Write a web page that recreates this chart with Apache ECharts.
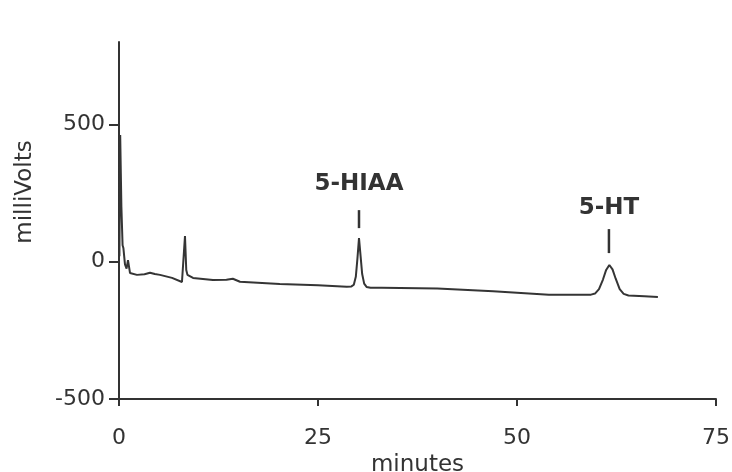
<!DOCTYPE html>
<html>
<head>
<meta charset="utf-8">
<script src="https://cdn.jsdelivr.net/npm/echarts@6/dist/echarts.min.js"></script>
<style>
  html, body { margin: 0; padding: 0; background: #fff; }
  #chart { width: 732px; height: 472px; }
</style>
</head>
<body>
<div id="chart"></div>
<script>
// ---- data ----
var timeMin = [0.05, 0.15, 0.3, 0.45, 0.55, 0.75, 0.95, 1.13, 1.38, 2.26, 3.2, 3.9, 4.5, 5.15, 6.66, 7.91, 8.15, 8.29, 8.45, 8.6, 9.3, 11.8, 13.5, 14.3, 15.2, 20.2, 25, 28.6, 29.2, 29.5, 29.75, 29.95, 30.15, 30.35, 30.55, 30.8, 31.1, 31.6, 33, 40, 47, 54, 59.3, 59.8, 60.3, 60.8, 61.2, 61.6, 62.0, 62.4, 62.9, 63.4, 64, 66, 67.7];
var milliVolts = [20, 461, 200, 60, 50, -10, -25, 6, -41, -48, -46, -40, -45, -48, -59, -74, -74, 93, -30, -48, -59, -67, -66, -62, -73, -81, -86, -91, -90, -84, -55, 10, 86, 20, -45, -80, -92, -95, -95, -98, -108, -120, -120, -116, -100, -65, -30, -12, -28, -62, -100, -117, -123, -126, -129];

var xTicks = [0, 25, 50, 75];
var yTicks = [-500, 0, 500];

var peakNames = ['5-HIAA', '5-HT'];
var peakTimes = [30.15, 61.55];
var peakMarkY = [155, 75];
var peakMarkLen = [18, 24];
var peakTextY = [283, 194];

var lineData = timeMin.map(function (t, i) { return [t, milliVolts[i]]; });

var markData = [];
peakNames.forEach(function (n, i) {
  markData.push({
    coord: [peakTimes[i], peakMarkY[i]],
    symbol: 'rect',
    symbolSize: [2.5, peakMarkLen[i]],
    itemStyle: { color: '#333' },
    label: { show: false }
  });
  markData.push({
    coord: [peakTimes[i], peakTextY[i]],
    symbol: 'rect',
    symbolSize: 0.01,
    itemStyle: { color: 'rgba(0,0,0,0)' },
    label: {
      show: true, position: 'inside', formatter: n,
      color: '#333', fontFamily: 'DejaVu Sans', fontWeight: 'bold', fontSize: 23
    }
  });
});

var chart = echarts.init(document.getElementById('chart'), null, { renderer: 'canvas' });
chart.setOption({
  animation: false,
  backgroundColor: '#ffffff',
  grid: { left: 119, right: 16, top: 42, bottom: 73, containLabel: false, outerBoundsMode: 'none' },
  xAxis: {
    type: 'value', min: 0, max: 75, interval: 25,
    name: 'minutes', nameLocation: 'middle', nameGap: 52,
    nameTextStyle: { fontFamily: 'DejaVu Sans', fontSize: 23, color: '#333' },
    axisLine: { show: true, onZero: false, lineStyle: { color: '#333', width: 2 } },
    axisTick: { show: true, length: 7, lineStyle: { color: '#333', width: 2 }, customValues: xTicks },
    axisLabel: { margin: 28, fontFamily: 'DejaVu Sans', fontSize: 22, color: '#333', customValues: xTicks },
    splitLine: { show: false }
  },
  yAxis: {
    type: 'value', min: -500, max: 800, interval: 500,
    axisLine: { show: true, onZero: false, lineStyle: { color: '#333', width: 2 } },
    axisTick: { show: true, length: 10, lineStyle: { color: '#333', width: 2 }, customValues: yTicks },
    axisLabel: { margin: 14, fontFamily: 'DejaVu Sans', fontSize: 22, color: '#333', customValues: yTicks },
    splitLine: { show: false }
  },
  graphic: [{
    type: 'text', x: 25, y: 192, rotation: Math.PI / 2,
    style: { text: 'milliVolts', font: '23px "DejaVu Sans"', fill: '#333', textAlign: 'center', textVerticalAlign: 'middle' }
  }],
  series: [{
    type: 'line',
    data: lineData,
    showSymbol: false,
    symbol: 'none',
    lineStyle: { color: '#353535', width: 2 },
    markPoint: { silent: true, data: markData, animation: false }
  }]
});
</script>
</body>
</html>
